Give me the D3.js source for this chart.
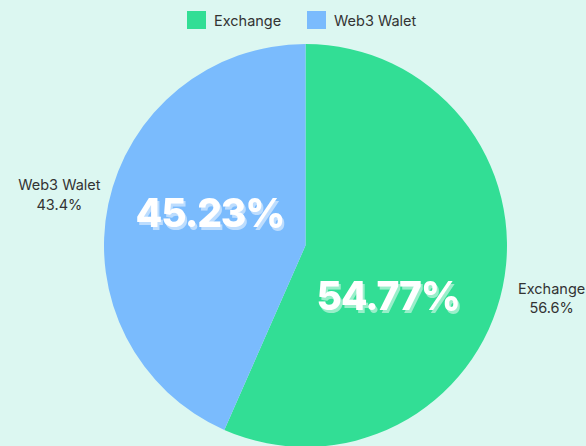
<!DOCTYPE html>
<html>
<head>
<meta charset="utf-8">
<script src="https://cdn.jsdelivr.net/npm/d3@7/dist/d3.min.js"></script>
<style>
  body { margin: 0; background: #dcf7f1; }
  svg { display: block; }
</style>
</head>
<body>
<svg width="586" height="446" id="mainsvg"></svg>
<script>
  // data
  const CATEGORIES = ['Exchange', 'Web3 Walet'];
  const VALUES = [56.6, 43.4];
  const INNER_LABELS = ['54.77%', '45.23%'];
  const COLORS = ['#32de95', '#7abbfd'];

  const svg = d3.select('svg');
  const width = +svg.attr('width');
  const height = +svg.attr('height');
  const cx = 305.5, cy = 245.5, radius = 201.5;

  svg.append('rect').attr('width', width).attr('height', height).attr('fill', '#dcf7f1');

  // soft offset shadow for the big labels
  const defs = svg.append('defs');
  defs.append('filter').attr('id', 'txtshadow')
    .attr('x', '-10%').attr('y', '-20%').attr('width', '130%').attr('height', '160%')
    .append('feDropShadow')
    .attr('dx', 2).attr('dy', 3).attr('stdDeviation', 0.6)
    .attr('flood-color', '#ffffff').attr('flood-opacity', 0.5);

  const color = d3.scaleOrdinal().domain(CATEGORIES).range(COLORS);
  const pie = d3.pie().sort(null).value(d => d.value);
  const data = CATEGORIES.map((c, i) => ({name: c, value: VALUES[i], inner: INNER_LABELS[i]}));
  const arcs = pie(data);

  const g = svg.append('g').attr('transform', `translate(${cx}, ${cy})`);
  const arc = d3.arc().innerRadius(0).outerRadius(radius);
  g.selectAll('.slice').data(arcs).join('path')
    .attr('class', 'slice')
    .attr('d', arc)
    .attr('fill', d => color(d.data.name));

  // outer labels
  const outerArc = d3.arc().innerRadius(radius + 50).outerRadius(radius + 50);
  const outer = g.selectAll('.outer').data(arcs).join('text')
    .attr('class', 'outer')
    .attr('transform', d => `translate(${outerArc.centroid(d)})`)
    .attr('text-anchor', 'middle')
    .style('font-family', 'Inter, Roboto, sans-serif')
    .style('font-size', '14.5px')
    .attr('fill', '#333');
  outer.append('tspan').attr('x', 0).attr('dy', '-0.25em').text(d => d.data.name);
  outer.append('tspan').attr('x', 0).attr('dy', '1.35em').text(d => d.data.value + '%');

  // big inner labels
  const innerArc = d3.arc().innerRadius(radius * 0.5).outerRadius(radius * 0.5);
  const nudge = [[-16, 29], [3, -12]];
  g.selectAll('.inner').data(arcs).join('text')
    .attr('class', 'inner')
    .attr('x', (d, i) => innerArc.centroid(d)[0] + nudge[i][0])
    .attr('y', (d, i) => innerArc.centroid(d)[1] + nudge[i][1])
    .attr('text-anchor', 'middle')
    .attr('dominant-baseline', 'central')
    .attr('filter', 'url(#txtshadow)')
    .style('font-family', 'Inter, Roboto, sans-serif')
    .style('font-weight', 800)
    .style('font-size', '39px')
    .style('letter-spacing', '-1.2px')
    .attr('fill', '#ffffff')
    .text(d => d.data.inner);

  // legend
  const legend = svg.append('g').attr('transform', 'translate(187, 11)');
  const itemX = [0, 120];
  const items = legend.selectAll('.item').data(CATEGORIES).join('g')
    .attr('class', 'item')
    .attr('transform', (d, i) => `translate(${itemX[i]}, 0)`);
  items.append('rect').attr('width', 19).attr('height', 18).attr('fill', d => color(d));
  items.append('text')
    .attr('x', 27).attr('y', 9)
    .attr('dominant-baseline', 'central')
    .style('font-family', 'Inter, Roboto, sans-serif')
    .style('font-size', '14.5px')
    .attr('fill', '#333')
    .text(d => d);
</script>
</body>
</html>
